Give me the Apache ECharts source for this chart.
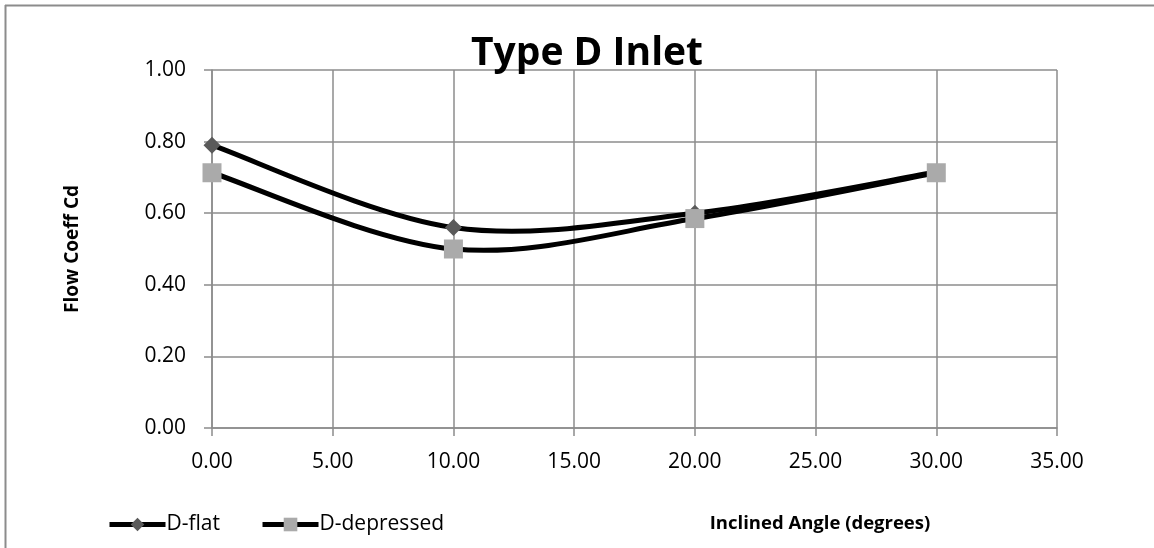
<!DOCTYPE html>
<html>
<head>
<meta charset="utf-8">
<script src="https://cdn.jsdelivr.net/npm/echarts@6/dist/echarts.min.js"></script>
<style>
html,body{margin:0;padding:0;background:#fff;}
#chart{width:1154px;height:548px;}
</style>
</head>
<body>
<div id="chart"></div>
<script>
var angles = [0, 10, 20, 30];
var dFlat = [0.79, 0.56, 0.60, 0.715];
var dDepressed = [0.713, 0.50, 0.585, 0.713];
var xTicks = {min: 0, max: 35, interval: 5};
var yTicks = {min: 0, max: 1, interval: 0.2};

function pairs(xs, ys) { return xs.map(function (x, i) { return [x, ys[i]]; }); }

// Excel-like smoothed curve (Catmull-Rom bezier), points placed through the chart's own scales
function curveRenderer(data) {
  return function (params, api) {
    if (params.dataIndex !== 0) return;
    var p = data.map(function (d) { return api.coord(d); });
    var n = p.length;
    var s = 'M' + p[0][0] + ' ' + p[0][1];
    for (var i = 0; i < n - 1; i++) {
      var a = p[Math.max(i - 1, 0)], b = p[i], c = p[i + 1], d = p[Math.min(i + 2, n - 1)];
      var c1x = b[0] + (c[0] - a[0]) / 6, c1y = b[1] + (c[1] - a[1]) / 6;
      var c2x = c[0] - (d[0] - b[0]) / 6, c2y = c[1] - (d[1] - b[1]) / 6;
      s += ' C' + c1x + ' ' + c1y + ' ' + c2x + ' ' + c2y + ' ' + c[0] + ' ' + c[1];
    }
    return {
      type: 'path',
      shape: {pathData: s},
      style: {fill: 'none', stroke: '#000', lineWidth: 5, lineJoin: 'round', lineCap: 'butt'}
    };
  };
}

var font = "'Open Sans', 'Noto Sans', sans-serif";
var flatData = pairs(angles, dFlat);
var depData = pairs(angles, dDepressed);
var chart = echarts.init(document.getElementById('chart'));
chart.setOption({
  animation: false,
  backgroundColor: '#fff',
  title: [{
    text: 'Type D Inlet',
    left: 582, top: 29, textAlign: 'center',
    textStyle: {fontFamily: font, fontSize: 39, fontWeight: 'bold', color: '#000'}
  }, {
    text: 'Inclined Angle (degrees)',
    left: 815, top: 509, textAlign: 'center',
    textStyle: {fontFamily: font, fontSize: 18.5, fontWeight: 'bold', color: '#000'}
  }],
  graphic: [
    {type: 'line', shape: {x1: 5, y1: 5.5, x2: 1154, y2: 5.5}, style: {stroke: '#8c8c8c', lineWidth: 2}},
    {type: 'line', shape: {x1: 5.5, y1: 5, x2: 5.5, y2: 548}, style: {stroke: '#8c8c8c', lineWidth: 2}}
  ],
  legend: {
    left: 102, top: 509,
    itemWidth: 56, itemHeight: 17, itemGap: 40,
    lineStyle: {width: 5, color: '#000', opacity: 1},
    textStyle: {fontFamily: font, fontSize: 21, color: '#000', padding: [0,0,0,-4]},
    data: ['D-flat', 'D-depressed']
  },
  grid: {left: 212, right: 97, top: 70, bottom: 120},
  xAxis: {
    type: 'value', min: xTicks.min, max: xTicks.max, interval: xTicks.interval,
    axisLine: {show: true, lineStyle: {color: '#8c8c8c', width: 1.5}},
    axisTick: {show: true, length: 8, lineStyle: {color: '#8c8c8c', width: 1.5}},
    splitLine: {show: true, lineStyle: {color: '#8c8c8c', width: 1.5}},
    axisLabel: {fontFamily: font, fontSize: 21, color: '#000', margin: 24,
      formatter: function (v) { return v.toFixed(2); }}
  },
  yAxis: {
    type: 'value', min: yTicks.min, max: yTicks.max, interval: yTicks.interval,
    name: 'Flow Coeff Cd', nameLocation: 'middle', nameGap: 130, nameRotate: 90,
    nameTextStyle: {fontFamily: font, fontSize: 19, fontWeight: 'bold', color: '#000'},
    axisLine: {show: true, lineStyle: {color: '#8c8c8c', width: 1.5}},
    axisTick: {show: true, length: 8, lineStyle: {color: '#8c8c8c', width: 1.5}},
    splitLine: {show: true, lineStyle: {color: '#8c8c8c', width: 1.5}},
    axisLabel: {fontFamily: font, fontSize: 21, color: '#000', margin: 26,
      formatter: function (v) { return v.toFixed(2); }}
  },
  series: [{
    name: 'flat-curve', type: 'custom', coordinateSystem: 'cartesian2d',
    data: flatData, renderItem: curveRenderer(flatData), silent: true, z: 1,
    encode: {x: 0, y: 1}, clip: false
  }, {
    name: 'depressed-curve', type: 'custom', coordinateSystem: 'cartesian2d',
    data: depData, renderItem: curveRenderer(depData), silent: true, z: 1,
    encode: {x: 0, y: 1}, clip: false
  }, {
    name: 'D-flat', type: 'line', z: 3,
    data: flatData,
    symbol: 'diamond', symbolSize: 17,
    itemStyle: {color: '#5a5a5a'},
    lineStyle: {color: '#000', width: 5, opacity: 0}
  }, {
    name: 'D-depressed', type: 'line', z: 4,
    data: depData,
    symbol: 'rect', symbolSize: 19,
    itemStyle: {color: '#aaaaaa'},
    lineStyle: {color: '#000', width: 5, opacity: 0}
  }]
});
</script>
</body>
</html>
